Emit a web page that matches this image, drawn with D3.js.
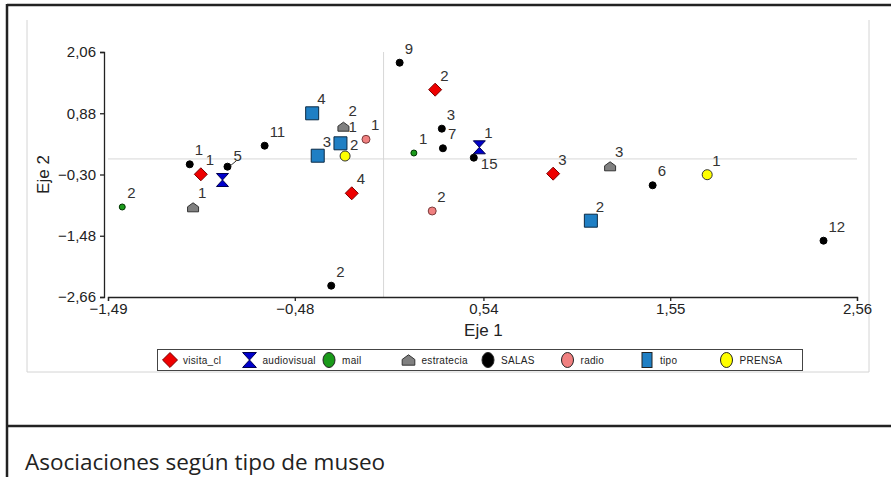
<!DOCTYPE html>
<html>
<head>
<meta charset="utf-8">
<script src="https://cdn.jsdelivr.net/npm/d3@7"></script>
<style>
  body { margin: 0; background: #fff; }
  svg { display: block; }
</style>
</head>
<body>
<svg id="chart" width="891" height="477"></svg>
<script>
// series names (legend order)
var seriesNames = ["visita_cl", "audiovisual", "mail", "estratecia", "SALAS", "radio", "tipo", "PRENSA"];

// points per series: [eje1, eje2, label]
var visita_cl = [[-0.988, -0.296, "1"], [-0.172, -0.662, "4"], [0.279, 1.334, "2"], [0.917, -0.284, "3"]];
var audiovisual = [[-0.871, -0.406, "1"], [0.518, 0.224, "1"]];
var mail = [[-1.413, -0.926, "2"], [0.164, 0.114, "1"]];
var estratecia = [[-1.030, -0.932, "1"], [-0.217, 0.621, "2"], [1.225, -0.142, "3"]];
var salas = [[-1.048, -0.104, "1"], [-0.844, -0.149, "5"], [-0.643, 0.255, "11"], [-0.283, -2.442, "2"],
             [0.087, 1.854, "9"], [0.315, 0.583, "3"], [0.321, 0.205, "7"], [0.488, 0.024, "15"],
             [1.455, -0.508, "6"], [2.379, -1.575, "12"]];
var radio = [[-0.095, 0.378, "1"], [0.263, -1.003, "2"]];
var tipo = [[-0.386, 0.879, "4"], [-0.356, 0.062, "3"], [-0.233, 0.301, "1"], [1.121, -1.190, "2"]];
var prensa = [[-0.208, 0.056, "2"], [1.750, -0.304, "1"]];

var xTicks = [-1.49, -0.48, 0.54, 1.55, 2.56];
var yTicks = [2.06, 0.88, -0.30, -1.48, -2.66];

var allSeries = [visita_cl, audiovisual, mail, estratecia, salas, radio, tipo, prensa];

// look of each series
var styles = [
  { shape: "diamond", fill: "#ee0000", stroke: "#7a0000" },
  { shape: "hourglass", fill: "#0000cc", stroke: "#000050" },
  { shape: "dot", r: 3, fill: "#1a9a1a", stroke: "#003300" },
  { shape: "house", fill: "#808080", stroke: "#333" },
  { shape: "dot", r: 3.5, fill: "#000", stroke: "#000" },
  { shape: "dot", r: 4, fill: "#f08080", stroke: "#7a3a3a" },
  { shape: "square", fill: "#1f7fc4", stroke: "#0b2a44" },
  { shape: "dot", r: 5, fill: "#ffff00", stroke: "#333" }
];

// label offsets that differ from the default upper right [dx, dy]
var labelShift = { "4:7": [7, 11], "4:1": [6, -6], "6:2": [8, -11], "3:1": [5, -11], "7:0": [5, -6] };
var hiddenLabels = ["1:0"];

var svg = d3.select("#chart");

// frame
svg.append("line").attr("x1", 7).attr("y1", 5).attr("x2", 891).attr("y2", 5)
  .attr("stroke", "#222").attr("stroke-width", 2.5);
svg.append("line").attr("x1", 7).attr("y1", 4).attr("x2", 7).attr("y2", 477)
  .attr("stroke", "#222").attr("stroke-width", 2.5);
svg.append("line").attr("x1", 7).attr("y1", 426).attr("x2", 891).attr("y2", 426)
  .attr("stroke", "#222").attr("stroke-width", 2.5);

// inner panel
svg.append("path").attr("d", "M27,20V372H869V20")
  .attr("fill", "none").attr("stroke", "#d4d4d4");

svg.append("text").attr("x", 25).attr("y", 470)
  .attr("font-family", "'Open Sans', sans-serif").attr("font-size", 22.5)
  .attr("fill", "#222").text("Asociaciones según tipo de museo");

var x = d3.scaleLinear().domain([-1.49, 2.56]).range([108, 857]);
var y = d3.scaleLinear().domain([-2.66, 2.06]).range([297, 52]);
var fmt = function (d) { return d3.format(".2f")(d).replace(".", ","); };

// reference lines at 0
svg.append("line").attr("x1", x(0)).attr("x2", x(0)).attr("y1", y(2.06)).attr("y2", y(-2.66))
  .attr("stroke", "#d8d8d8");
svg.append("line").attr("x1", x(-1.49)).attr("x2", x(2.56)).attr("y1", y(0)).attr("y2", y(0))
  .attr("stroke", "#d8d8d8");

var xAxis = svg.append("g").attr("transform", "translate(0," + y(-2.66) + ")")
  .call(d3.axisBottom(x).tickValues(xTicks).tickFormat(fmt).tickSizeOuter(0).tickSize(4).tickPadding(2));
var yAxis = svg.append("g").attr("transform", "translate(104,0)")
  .call(d3.axisLeft(y).tickValues(yTicks).tickFormat(fmt).tickSizeOuter(0).tickSize(4).tickPadding(4));
[xAxis, yAxis].forEach(function (g) {
  g.selectAll("text").attr("font-family", "'Liberation Sans', Arial, sans-serif")
    .attr("font-size", 15).attr("fill", "#222");
  g.selectAll("path, line").attr("stroke", "#222").attr("stroke-width", 1.3);
});

svg.append("text").attr("x", x(0.54)).attr("y", 336).attr("text-anchor", "middle")
  .attr("font-family", "'Liberation Sans', Arial, sans-serif").attr("font-size", 17)
  .attr("fill", "#222").text("Eje 1");
svg.append("text").attr("transform", "translate(49," + y(-0.30) + ") rotate(-90)")
  .attr("text-anchor", "middle")
  .attr("font-family", "'Liberation Sans', Arial, sans-serif").attr("font-size", 17)
  .attr("fill", "#222").text("Eje 2");

function shapePath(s, k) {
  k = k || 1;
  if (s.shape === "diamond") {
    var r = 6.5 * k;
    return "M0," + (-r) + "L" + r + ",0L0," + r + "L" + (-r) + ",0Z";
  }
  if (s.shape === "hourglass") {
    var w = 6 * k, h = 6.5 * k;
    return "M" + (-w) + "," + (-h) + "H" + w + "L0,0L" + w + "," + h + "H" + (-w) + "L0,0Z";
  }
  if (s.shape === "house") {
    var a = 5.5 * k;
    return "M" + (-a) + "," + (4.5 * k) + "H" + a + "V" + (-0.5 * k) + "L0," + (-4.5 * k) + "L" + (-a) + "," + (-0.5 * k) + "Z";
  }
  if (s.shape === "square") {
    var q = 6.5 * k;
    return "M" + (-q) + "," + (-q) + "H" + q + "V" + q + "H" + (-q) + "Z";
  }
  var rr = s.r * k;
  return "M" + (-rr) + ",0A" + rr + "," + rr + " 0 1,1 " + rr + ",0A" + rr + "," + rr + " 0 1,1 " + (-rr) + ",0Z";
}

var marks = svg.append("g");
var labels = svg.append("g")
  .attr("font-family", "'Liberation Sans', Arial, sans-serif").attr("font-size", 15).attr("fill", "#333");

allSeries.forEach(function (data, si) {
  var st = styles[si];
  marks.selectAll(null).data(data).enter().append("path")
    .attr("transform", function (d) { return "translate(" + x(d[0]) + "," + y(d[1]) + ")"; })
    .attr("d", shapePath(st))
    .attr("fill", st.fill).attr("stroke", st.stroke).attr("stroke-width", 1);

  data.forEach(function (d, i) {
    var key = si + ":" + i;
    if (hiddenLabels.indexOf(key) >= 0) return;
    var px = x(d[0]), py = y(d[1]);
    var off = labelShift[key] || [5, -9];
    if (key === "4:1") {
      // small leader from the label to the point
      labels.append("line").attr("x1", px + 3).attr("y1", py - 1).attr("x2", px + 9).attr("y2", py - 6)
        .attr("stroke", "#333");
    }
    labels.append("text").attr("x", px + off[0]).attr("y", py + off[1]).text(d[2]);
  });
});

// legend
var legend = svg.append("g");
legend.append("rect").attr("x", 157.5).attr("y", 349.5).attr("width", 645).attr("height", 21)
  .attr("fill", "#fff").attr("stroke", "#444");
seriesNames.forEach(function (name, i) {
  var st = styles[i];
  var lx = 170 + i * 79.5, ly = 360;
  var g = legend.append("g").attr("transform", "translate(" + lx + "," + ly + ")");
  if (st.shape === "dot") {
    g.append("ellipse").attr("rx", 6).attr("ry", 7.5)
      .attr("fill", st.fill).attr("stroke", "#222");
  } else if (st.shape === "square") {
    g.append("rect").attr("x", -5).attr("y", -7.5).attr("width", 10).attr("height", 15)
      .attr("fill", st.fill).attr("stroke", "#222");
  } else {
    g.append("path").attr("d", shapePath(st, 1.15))
      .attr("fill", st.fill).attr("stroke", st.stroke);
  }
  legend.append("text").attr("x", lx + 13).attr("y", ly + 3.5)
    .attr("font-family", "'Liberation Sans', Arial, sans-serif").attr("font-size", 10)
    .attr("letter-spacing", 0.3).attr("fill", "#222").text(name);
});
</script>
</body>
</html>
